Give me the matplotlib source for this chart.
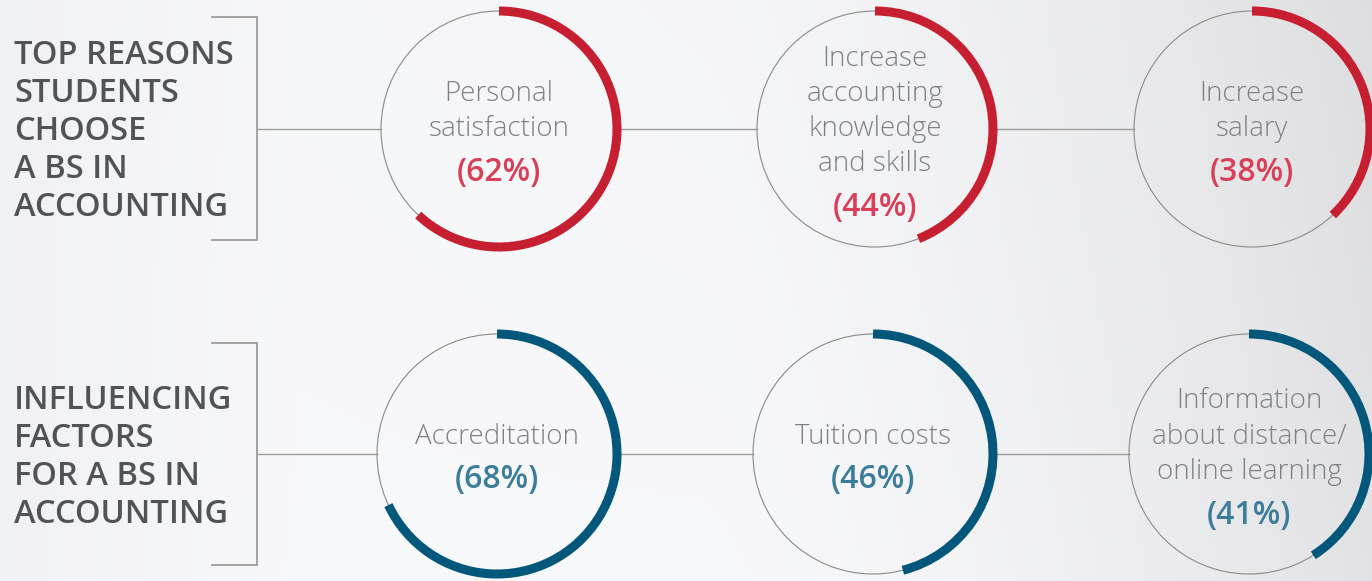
import numpy as np
import matplotlib
matplotlib.use("Agg")
import matplotlib.pyplot as plt
from matplotlib.patches import Arc, Circle

# ---- data ----
row_titles = [["TOP REASONS", "STUDENTS", "CHOOSE", "A BS IN", "ACCOUNTING"],
              ["INFLUENCING", "FACTORS", "FOR A BS IN", "ACCOUNTING"]]
top_labels = ["Personal\nsatisfaction",
              "Increase\naccounting\nknowledge\nand skills",
              "Increase\nsalary"]
top_values = [62, 44, 38]
bottom_labels = ["Accreditation",
                 "Tuition costs",
                 "Information\nabout distance/\nonline learning"]
bottom_values = [68, 46, 41]

# ---- style / layout ----
W, H = 1372, 581
fig = plt.figure(figsize=(W / 100, H / 100), dpi=100)
ax = fig.add_axes([0, 0, 1, 1])
ax.set_xlim(0, W)
ax.set_ylim(H, 0)
ax.axis("off")

# background gradient
yy, xx = np.mgrid[0:H:2, 0:W:2]
bright = 0.972 - 0.085 * np.clip((xx - 700) / 672, 0, 1) ** 1.6 \
         - 0.02 * np.clip((H - yy) / H, 0, 1) * np.clip(xx / W, 0, 1) \
         - 0.025 * np.clip((300 - xx) / 300, 0, 1)
bg = np.dstack([bright, bright + 0.002, bright + 0.008])
ax.imshow(np.clip(bg, 0, 1), extent=(0, W, H, 0), aspect="auto", zorder=0,
          interpolation="bilinear")

FONT = "Open Sans"
heading_color = "#505457"
label_color = "#7e8083"
line_color = "#9c9c9c"
rows = [
    dict(cy=129, r=118, xs=[499, 875, 1252], labels=top_labels, values=top_values,
         arc="#c61f31", pct="#d84059", bracket=(17, 240), title_y=64),
    dict(cy=454, r=120, xs=[497, 873, 1249], labels=bottom_labels, values=bottom_values,
         arc="#03577a", pct="#3b7d9b", bracket=(343, 565), title_y=409),
]

for i, row in enumerate(rows):
    cy, r = row["cy"], row["r"]
    # title
    for k, line in enumerate(row_titles[i]):
        ax.text(14, row["title_y"] + 38 * k, line, ha="left", va="baseline",
                fontsize=23.5, fontweight="semibold", family=FONT,
                color=heading_color, zorder=3)
    # bracket
    b0, b1 = row["bracket"]
    ax.plot([212, 257, 257, 212], [b0, b0, b1, b1], color=line_color, lw=1.3,
            solid_joinstyle="miter", zorder=2)
    # connectors
    xs = row["xs"]
    ax.plot([257, xs[0] - r], [cy, cy], color=line_color, lw=1.0, zorder=1)
    for a, b in zip(xs[:-1], xs[1:]):
        ax.plot([a + r, b - r], [cy, cy], color=line_color, lw=1.0, zorder=1)
    for cx, lab, val in zip(xs, row["labels"], row["values"]):
        ax.add_patch(Circle((cx, cy), r, fill=False, ec="#8a8a8a", lw=0.8, zorder=2))
        ax.add_patch(Arc((cx, cy), 2 * r, 2 * r, theta1=-90, theta2=-90 + 3.6 * val,
                         color=row["arc"], lw=6.5, zorder=3))
        n = lab.count("\n") + 1
        total = (n - 1) * 35 + 45 + 18
        first = cy + 3 - total / 2 + 18
        for k, line in enumerate(lab.split("\n")):
            ax.text(cx, first + 35 * k, line, ha="center", va="baseline",
                    fontsize=20, fontweight="light", family=FONT, color=label_color,
                    zorder=4)
        ax.text(cx, first + 35 * (n - 1) + 45, f"({val}%)", ha="center",
                va="baseline", fontsize=23, fontweight="semibold", family=FONT,
                color=row["pct"], zorder=4)

fig.savefig("out.png", dpi=100)
